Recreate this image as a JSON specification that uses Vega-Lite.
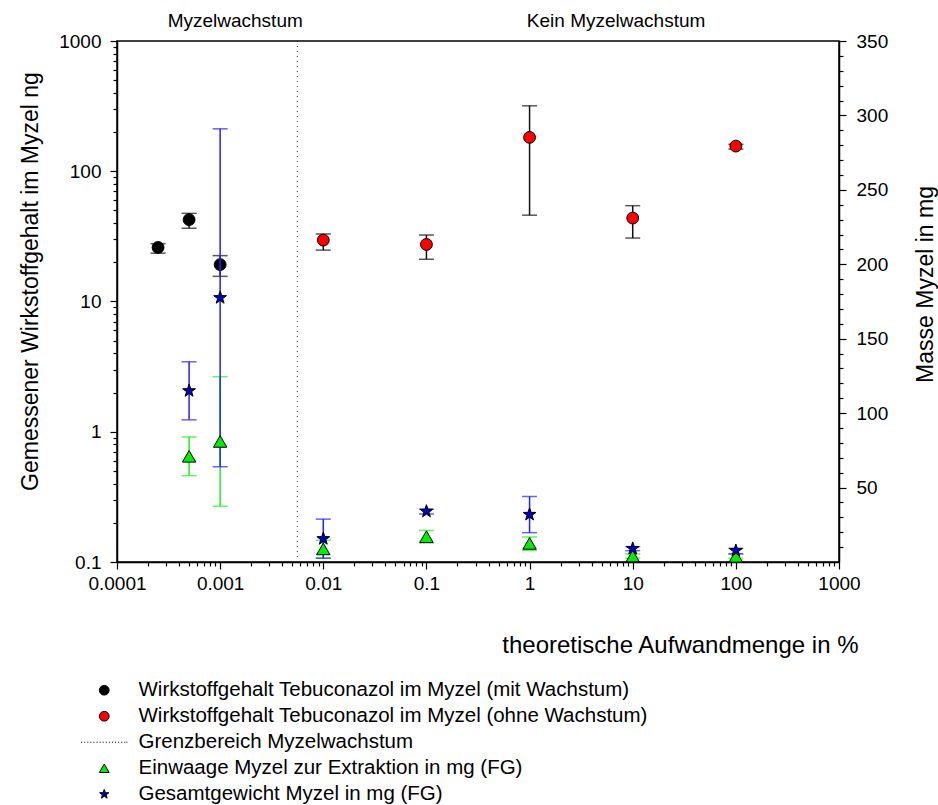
{
  "$schema": "https://vega.github.io/schema/vega-lite/v6.json",
  "width": 722,
  "height": 521,
  "autosize": {"type": "none"},
  "padding": {"left": 117, "top": 41, "right": 99, "bottom": 243},
  "background": "white",
  "config": {
    "font": "Liberation Sans",
    "view": {"stroke": "black", "strokeWidth": 1.5},
    "axis": {
      "labelFont": "Liberation Sans", "titleFont": "Liberation Sans",
      "labelColor": "black", "titleColor": "black",
      "domainColor": "black", "tickColor": "black",
      "domainWidth": 1.5, "tickWidth": 1.2,
      "labelFontSize": 19, "titleFontSize": 23, "titleFontWeight": "normal",
      "grid": false, "labelOverlap": false, "labelFlush": false
    }
  },
  "data": {
    "values": [
      {"s": "Wirkstoffgehalt Tebuconazol im Myzel (mit Wachstum)", "x": 0.00025, "v": 26, "lo": 23.5, "hi": 27.8},
      {"s": "Wirkstoffgehalt Tebuconazol im Myzel (mit Wachstum)", "x": 0.0005, "v": 42.5, "lo": 36.5, "hi": 47.5},
      {"s": "Wirkstoffgehalt Tebuconazol im Myzel (mit Wachstum)", "x": 0.001, "v": 19.2, "lo": 15.6, "hi": 22.5},
      {"s": "Wirkstoffgehalt Tebuconazol im Myzel (ohne Wachstum)", "x": 0.01, "v": 29.6, "lo": 24.8, "hi": 33},
      {"s": "Wirkstoffgehalt Tebuconazol im Myzel (ohne Wachstum)", "x": 0.1, "v": 27.4, "lo": 21.1, "hi": 32.4},
      {"s": "Wirkstoffgehalt Tebuconazol im Myzel (ohne Wachstum)", "x": 1, "v": 182, "lo": 46, "hi": 318},
      {"s": "Wirkstoffgehalt Tebuconazol im Myzel (ohne Wachstum)", "x": 10, "v": 43.7, "lo": 30.7, "hi": 54.4},
      {"s": "Wirkstoffgehalt Tebuconazol im Myzel (ohne Wachstum)", "x": 100, "v": 156, "lo": 148, "hi": 161},
      {"s": "Grenzbereich Myzelwachstum", "x": 0.0056},
      {"s": "Einwaage Myzel zur Extraktion in mg (FG)", "x": 0.0005, "v": 71, "lo": 58, "hi": 84},
      {"s": "Einwaage Myzel zur Extraktion in mg (FG)", "x": 0.001, "v": 81, "lo": 37.5, "hi": 124.5},
      {"s": "Einwaage Myzel zur Extraktion in mg (FG)", "x": 0.01, "v": 8.8, "lo": 2.8, "hi": 14.6},
      {"s": "Einwaage Myzel zur Extraktion in mg (FG)", "x": 0.1, "v": 17, "lo": 12.8, "hi": 21.2},
      {"s": "Einwaage Myzel zur Extraktion in mg (FG)", "x": 1, "v": 12.5, "lo": 7.8, "hi": 16.8},
      {"s": "Einwaage Myzel zur Extraktion in mg (FG)", "x": 10, "v": 4, "lo": 2.6, "hi": 5.4},
      {"s": "Einwaage Myzel zur Extraktion in mg (FG)", "x": 100, "v": 3.8, "lo": 2.4, "hi": 5.2},
      {"s": "Gesamtgewicht Myzel in mg (FG)", "x": 0.0005, "v": 115, "lo": 95.5, "hi": 134.5},
      {"s": "Gesamtgewicht Myzel in mg (FG)", "x": 0.001, "v": 177.5, "lo": 64, "hi": 291},
      {"s": "Gesamtgewicht Myzel in mg (FG)", "x": 0.01, "v": 15.6, "lo": 2.5, "hi": 28.8},
      {"s": "Gesamtgewicht Myzel in mg (FG)", "x": 0.1, "v": 34, "lo": 32.3, "hi": 35.5},
      {"s": "Gesamtgewicht Myzel in mg (FG)", "x": 1, "v": 31.9, "lo": 19.7, "hi": 44},
      {"s": "Gesamtgewicht Myzel in mg (FG)", "x": 10, "v": 9, "lo": 7.6, "hi": 10.3},
      {"s": "Gesamtgewicht Myzel in mg (FG)", "x": 100, "v": 7.6, "lo": 5.6, "hi": 9.2}
    ]
  },
  "layer": [
    {
      "layer": [
        {
          "transform": [{"filter": {"field": "s", "equal": "Grenzbereich Myzelwachstum"}}],
          "mark": {"type": "rule", "strokeDash": [1, 4], "color": "#333", "strokeWidth": 1},
          "encoding": {
            "x": {
              "field": "x", "type": "quantitative", "title": "theoretische Aufwandmenge in %",
              "scale": {"type": "log", "domain": [0.0001, 1000], "nice": false},
              "axis": {
                "title": "theoretische Aufwandmenge in %",
                "values": [0.0001,0.0002,0.0003,0.0004,0.0005,0.0006,0.0007,0.0008,0.0009,0.001,0.002,0.003,0.004,0.005,0.006,0.007,0.008,0.009,0.01,0.02,0.03,0.04,0.05,0.06,0.07,0.08,0.09,0.1,0.2,0.3,0.4,0.5,0.6,0.7,0.8,0.9,1,2,3,4,5,6,7,8,9,10,20,30,40,50,60,70,80,90,100,200,300,400,500,600,700,800,900,1000],
                "tickCount": 500,
                "format": "~g",
                "labelOverlap": false,
                "labelExpr": "abs(log(datum.value)/LN10 - round(log(datum.value)/LN10)) < 0.001 ? datum.label : ''",
                "tickSize": {"condition": {"test": "abs(log(datum.value)/LN10 - round(log(datum.value)/LN10)) < 0.001", "value": 7}, "value": 4},
                "labelPadding": 5,
                "titleFontSize": 24,
                "titleX": 741, "titleY": 83, "titleAlign": "right", "titleBaseline": "middle", "titleAngle": 0
              }
            }
          }
        },
        {
          "transform": [{"filter": {"field": "s", "oneOf": ["Wirkstoffgehalt Tebuconazol im Myzel (mit Wachstum)", "Wirkstoffgehalt Tebuconazol im Myzel (ohne Wachstum)"]}}],
          "mark": {"type": "errorbar", "color": "#111", "thickness": 1.5, "size": 15, "ticks": true},
          "encoding": {
            "x": {"field": "x", "type": "quantitative", "title": "theoretische Aufwandmenge in %", "scale": {"type": "log", "domain": [0.0001, 1000], "nice": false}},
            "y": {"field": "lo", "type": "quantitative", "title": "Gemessener Wirkstoffgehalt im Myzel ng", "scale": {"type": "log", "domain": [0.1, 1000], "nice": false}},
            "y2": {"field": "hi"}
          }
        },
        {
          "transform": [{"filter": {"field": "s", "oneOf": ["Wirkstoffgehalt Tebuconazol im Myzel (mit Wachstum)", "Wirkstoffgehalt Tebuconazol im Myzel (ohne Wachstum)"]}}],
          "mark": {"type": "point", "filled": true, "opacity": 1, "stroke": "black", "strokeWidth": 1, "size": 140},
          "encoding": {
            "x": {"field": "x", "type": "quantitative", "title": "theoretische Aufwandmenge in %", "scale": {"type": "log", "domain": [0.0001, 1000], "nice": false}},
            "y": {
              "field": "v", "type": "quantitative", "title": "Gemessener Wirkstoffgehalt im Myzel ng",
              "scale": {"type": "log", "domain": [0.1, 1000], "nice": false},
              "axis": {
                "orient": "left",
                "title": "Gemessener Wirkstoffgehalt im Myzel ng",
                "values": [0.1,0.2,0.3,0.4,0.5,0.6,0.7,0.8,0.9,1,2,3,4,5,6,7,8,9,10,20,30,40,50,60,70,80,90,100,200,300,400,500,600,700,800,900,1000],
                "tickCount": 500,
                "format": "~g",
                "labelOverlap": false,
                "labelExpr": "abs(log(datum.value)/LN10 - round(log(datum.value)/LN10)) < 0.001 ? datum.label : ''",
                "tickSize": {"condition": {"test": "abs(log(datum.value)/LN10 - round(log(datum.value)/LN10)) < 0.001", "value": 7}, "value": 4},
                "labelPadding": 9,
                "titleX": -87, "titleY": 240, "titleAngle": 270, "titleAlign": "center", "titleBaseline": "middle"
              }
            },
            "fill": {
              "field": "s", "type": "nominal", "title": null,
              "scale": {
                "domain": ["Wirkstoffgehalt Tebuconazol im Myzel (mit Wachstum)", "Wirkstoffgehalt Tebuconazol im Myzel (ohne Wachstum)", "Grenzbereich Myzelwachstum", "Einwaage Myzel zur Extraktion in mg (FG)", "Gesamtgewicht Myzel in mg (FG)"],
                "range": ["#000000", "#ff0000", "transparent", "#00ee00", "#0000cc"]
              },
              "legend": {
                "orient": "none", "legendX": -23, "legendY": 639, "title": null,
                "symbolSize": 95, "labelOffset": 24, "rowPadding": 5,
                "labelFontSize": 20.5, "labelFont": "Liberation Sans", "labelColor": "black", "labelLimit": 0, "padding": 0,
                "symbolStrokeWidth": 1, "symbolStrokeColor": "black", "symbolOpacity": 1
              }
            },
            "shape": {
              "field": "s", "type": "nominal", "title": null,
              "scale": {
                "domain": ["Wirkstoffgehalt Tebuconazol im Myzel (mit Wachstum)", "Wirkstoffgehalt Tebuconazol im Myzel (ohne Wachstum)", "Grenzbereich Myzelwachstum", "Einwaage Myzel zur Extraktion in mg (FG)", "Gesamtgewicht Myzel in mg (FG)"],
                "range": ["circle", "circle", "M-4.75,0L-4.54,0M-4.12,0L-3.91,0M-3.48,0L-3.27,0M-2.85,0L-2.64,0M-2.22,0L-2.01,0M-1.59,0L-1.38,0M-0.95,0L-0.74,0M-0.32,0L-0.11,0M0.31,0L0.52,0M0.95,0L1.16,0M1.58,0L1.79,0M2.21,0L2.42,0M2.85,0L3.06,0M3.48,0L3.69,0M4.11,0L4.32,0M4.54,0L4.75,0", "triangle-up", "M0,-1L0.235,-0.324L0.951,-0.309L0.38,0.124L0.588,0.809L0,0.4L-0.588,0.809L-0.38,0.124L-0.951,-0.309L-0.235,-0.324Z"]
              }
            }
          }
        },
        {
          "data": {"values": [{"label": "Myzelwachstum", "x": 0.0014}, {"label": "Kein Myzelwachstum", "x": 6.9}]},
          "mark": {"type": "text", "fontSize": 19, "font": "Liberation Sans", "color": "black", "dy": -20, "baseline": "middle", "align": "center"},
          "encoding": {
            "x": {"field": "x", "type": "quantitative", "title": "theoretische Aufwandmenge in %", "scale": {"type": "log", "domain": [0.0001, 1000], "nice": false}},
            "y": {"datum": 1000, "type": "quantitative", "title": "Gemessener Wirkstoffgehalt im Myzel ng", "scale": {"type": "log", "domain": [0.1, 1000], "nice": false}},
            "text": {"field": "label"}
          }
        }
      ]
    },
    {
      "layer": [
        {
          "transform": [{"filter": {"field": "s", "equal": "Einwaage Myzel zur Extraktion in mg (FG)"}}],
          "mark": {"type": "errorbar", "color": "#22ee22", "thickness": 1.5, "size": 15, "ticks": true},
          "encoding": {
            "x": {"field": "x", "type": "quantitative", "title": "theoretische Aufwandmenge in %", "scale": {"type": "log", "domain": [0.0001, 1000], "nice": false}},
            "y": {"field": "lo", "type": "quantitative", "title": "Masse Myzel in mg", "scale": {"domain": [0, 350], "nice": false}},
            "y2": {"field": "hi"}
          }
        },
        {
          "transform": [{"filter": {"field": "s", "equal": "Gesamtgewicht Myzel in mg (FG)"}}],
          "mark": {"type": "errorbar", "color": "#2222ff", "thickness": 1.5, "size": 15, "ticks": true},
          "encoding": {
            "x": {"field": "x", "type": "quantitative", "title": "theoretische Aufwandmenge in %", "scale": {"type": "log", "domain": [0.0001, 1000], "nice": false}},
            "y": {"field": "lo", "type": "quantitative", "title": "Masse Myzel in mg", "scale": {"domain": [0, 350], "nice": false}},
            "y2": {"field": "hi"}
          }
        },
        {
          "transform": [{"filter": {"field": "s", "oneOf": ["Einwaage Myzel zur Extraktion in mg (FG)", "Gesamtgewicht Myzel in mg (FG)"]}}],
          "mark": {"type": "point", "filled": true, "opacity": 1, "stroke": "black", "strokeWidth": 1, "size": 180},
          "encoding": {
            "x": {"field": "x", "type": "quantitative", "title": "theoretische Aufwandmenge in %", "scale": {"type": "log", "domain": [0.0001, 1000], "nice": false}},
            "y": {
              "field": "v", "type": "quantitative", "title": "Masse Myzel in mg",
              "scale": {"domain": [0, 350], "nice": false},
              "axis": {
                "orient": "right",
                "title": "Masse Myzel in mg",
                "values": [10,20,30,40,50,60,70,80,90,100,110,120,130,140,150,160,170,180,190,200,210,220,230,240,250,260,270,280,290,300,310,320,330,340,350],
                "tickCount": 500,
                "format": "d",
                "labelOverlap": false,
                "labelExpr": "datum.value % 50 === 0 ? datum.label : ''",
                "tickSize": {"condition": {"test": "datum.value % 50 === 0", "value": 7}, "value": 4},
                "labelPadding": 10,
                "titleX": 86, "titleY": 243, "titleAngle": 270, "titleAlign": "center", "titleBaseline": "middle"
              }
            },
            "fill": {"field": "s", "type": "nominal", "title": null},
            "shape": {"field": "s", "type": "nominal", "title": null}
          }
        }
      ]
    }
  ],
  "resolve": {"scale": {"y": "independent"}}
}
